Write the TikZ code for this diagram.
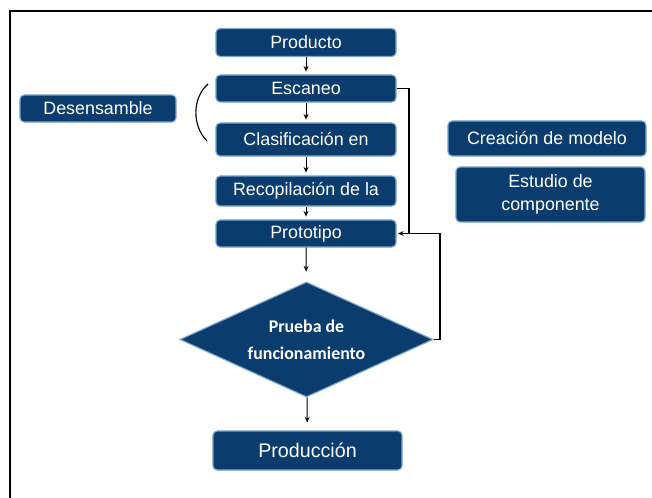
\documentclass[tikz,border=0pt]{standalone}
\usepackage{fontspec}
\setmainfont{Liberation Sans}
\newfontfamily\calibri{Carlito}
\usepackage{tikz}
\usetikzlibrary{shapes.geometric,arrows.meta}

\begin{document}
\begin{tikzpicture}[x=0.025cm,y=-0.025cm,
  box/.style={draw=boxedge,line width=0.8pt,fill=boxfill,rounded corners=3pt,
    text=white,inner sep=0pt,align=center,font=\fontsize{12.7}{16.3}\selectfont},
  flow/.style={-{Stealth[length=4pt,width=3.5pt]},line width=0.7pt,shorten >=2pt},
  back/.style={line width=1pt}]
% Define colors
\definecolor{boxfill}{RGB}{10,61,109}
\definecolor{boxedge}{RGB}{125,165,205}

% Draw frame
\useasboundingbox (0,0) rectangle (652,498);
\draw[line width=1.3pt] (10,498) -- (10,11) -- (652,11);

% Draw main steps
\node[box,minimum width=4.5cm,minimum height=0.7cm] (prod) at (306,42.5) {Producto};
\node[box,minimum width=4.5cm,minimum height=0.675cm] (scan) at (306,88.5) {Escaneo};
\node[box,minimum width=4.5cm,minimum height=0.825cm] (clas) at (306,139.5) {Clasificación en};
\node[box,minimum width=4.5cm,minimum height=0.75cm] (recop) at (306,191) {Recopilación de la};
\node[box,minimum width=4.5cm,minimum height=0.675cm] (proto) at (306,233.5) {Prototipo};
\node[box,diamond,aspect=2.2,rounded corners=0pt,minimum width=6.325cm,minimum height=2.875cm,
  font=\calibri\bfseries\fontsize{12.7}{19}\selectfont] (test) at (306.5,339.5) {Prueba de\\funcionamiento};
\node[box,minimum width=4.725cm,minimum height=0.975cm,font=\fontsize{14}{16}\selectfont] (prodn) at (307.5,450.5) {Producción};

% Draw side boxes
\node[box,minimum width=3.9cm,minimum height=0.675cm] (desen) at (98,108.5) {Desensamble};
\node[box,minimum width=4.95cm,minimum height=0.875cm] (crea) at (547,138.5) {Creación de modelo};
\node[box,minimum width=4.725cm,minimum height=1.375cm] (estud) at (550.5,194.5) {Estudio de\\componente};

% Draw bracket
\draw[line width=0.8pt] (208,84) .. controls (192,98) and (192,126) .. (207,141);

% Draw arrows
\draw[flow] (prod) -- (scan);
\draw[flow] (scan) -- (clas);
\draw[flow] (clas) -- (recop);
\draw[flow] (recop) -- (proto);
\draw[flow,shorten >=0.25cm] (proto) -- (test);
\draw[flow,shorten >=0.2cm] (test) -- (prodn);

% Draw feedback loop
\coordinate (fbin) at (409,233.5);
\coordinate (fbout) at (440,233.5);
\draw[back] (scan.east) -| (fbin);
\draw[back] (test.east) -| (fbout) -- (fbin);
\draw[flow,back,shorten >=1pt] (fbin) -- (proto.east);
\end{tikzpicture}
\end{document}
